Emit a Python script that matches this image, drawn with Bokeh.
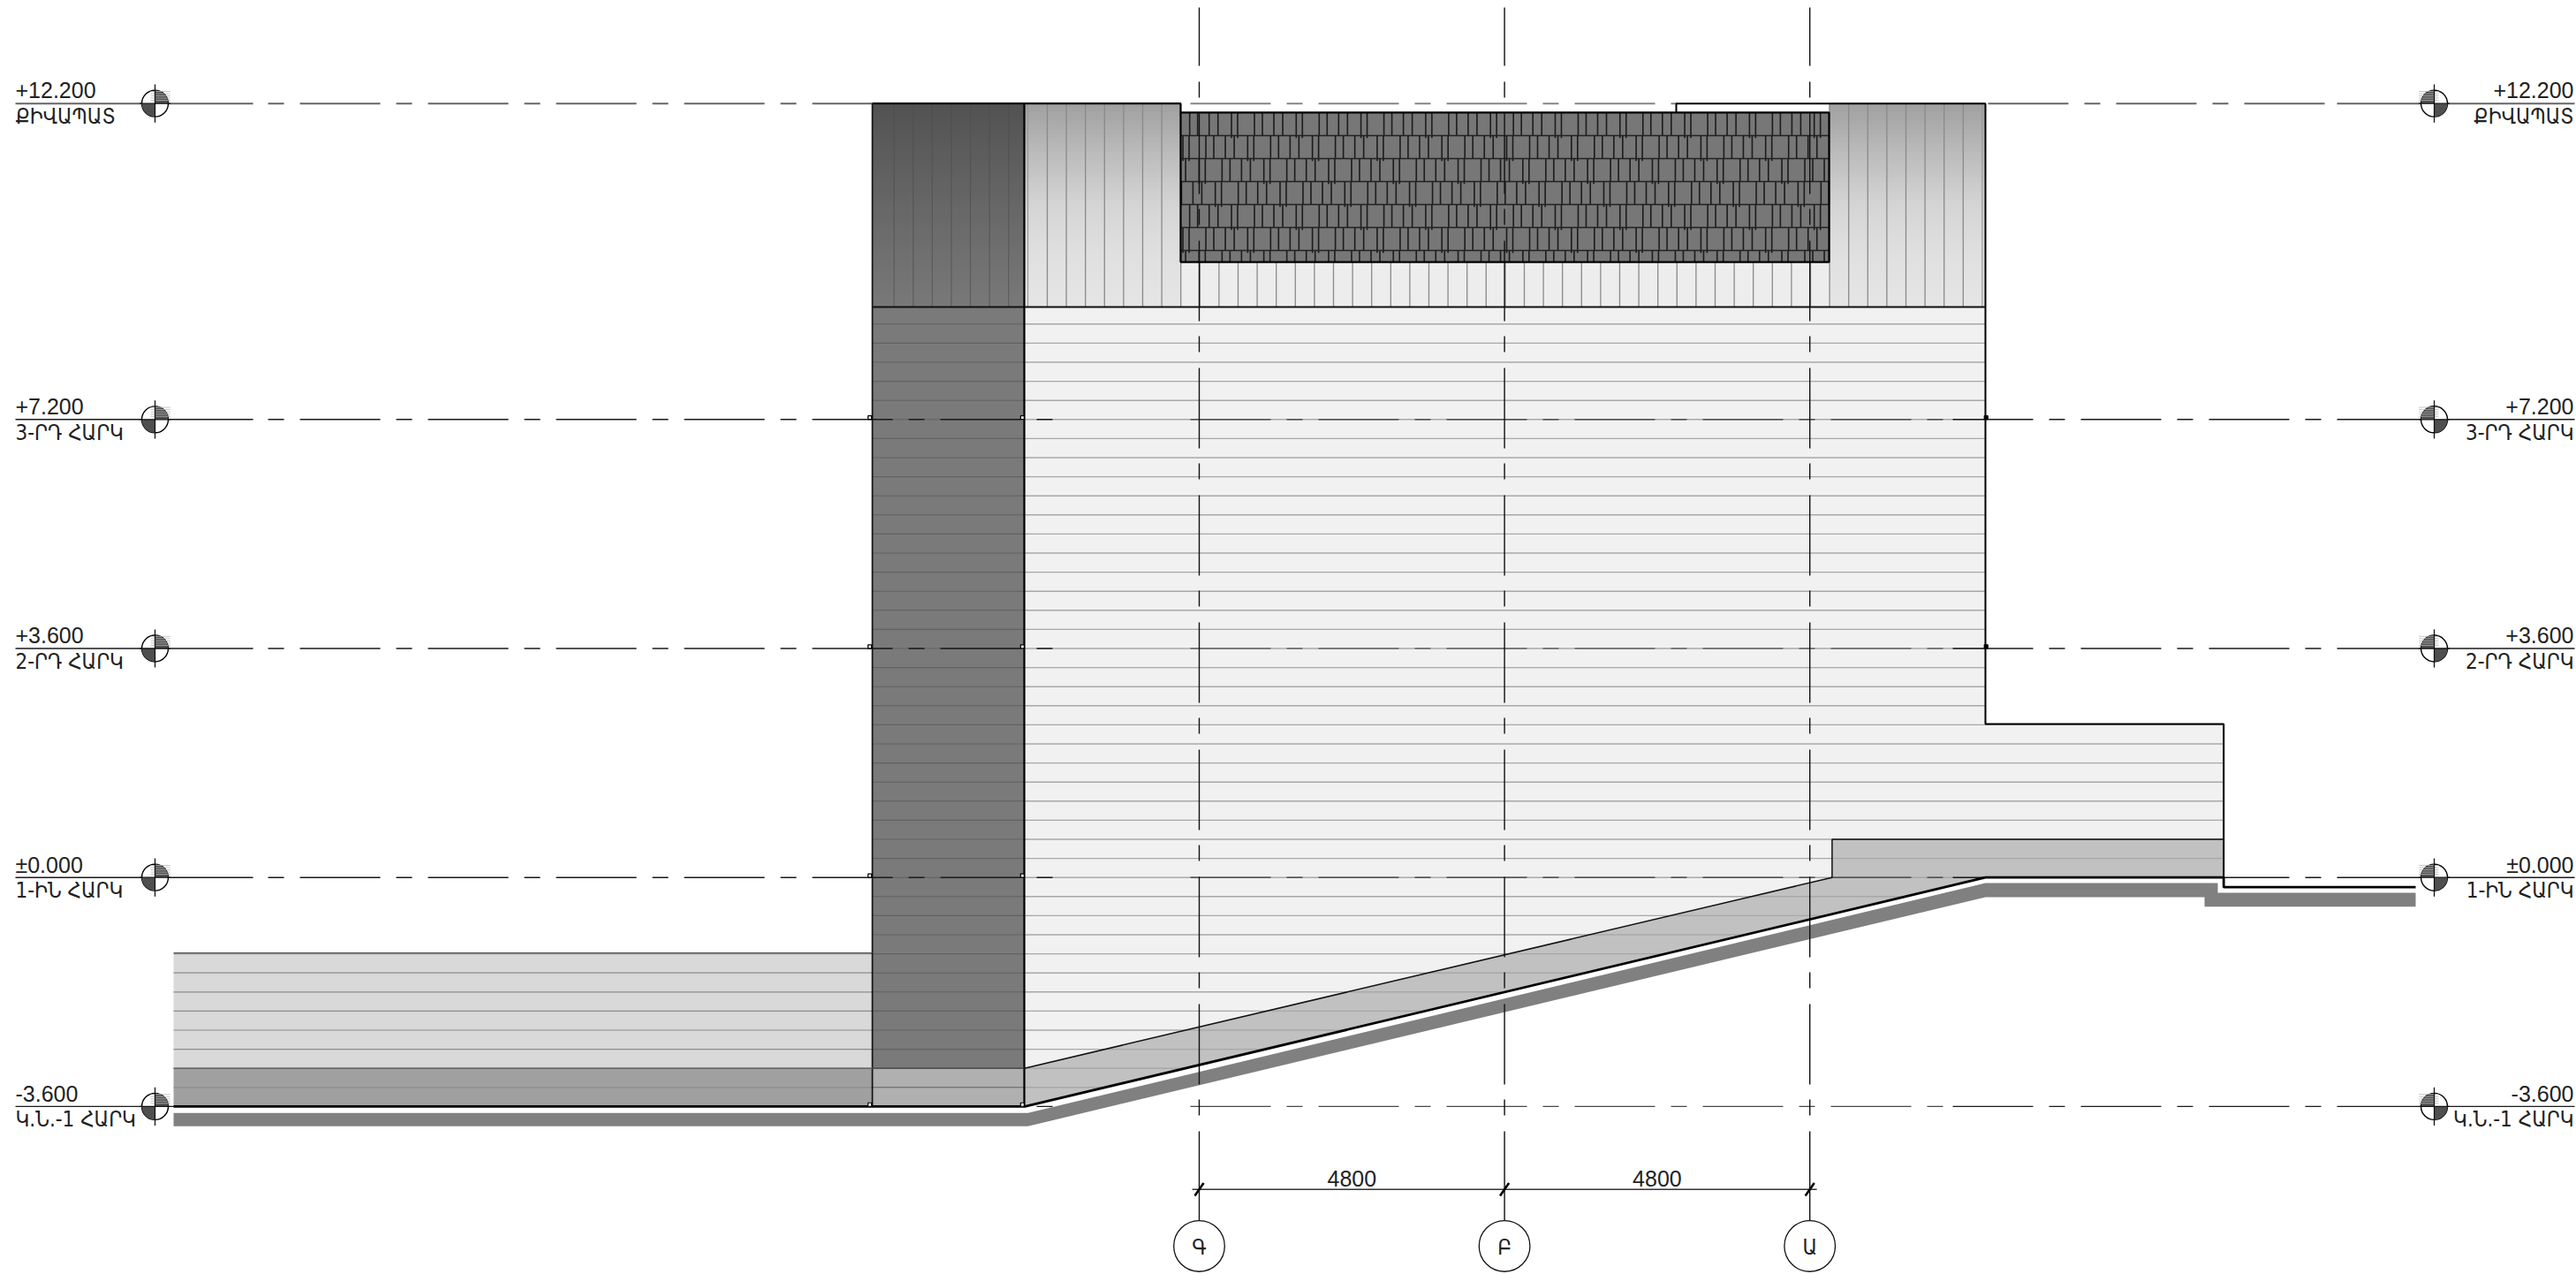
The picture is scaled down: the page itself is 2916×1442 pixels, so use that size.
import numpy as np
from bokeh.plotting import figure
from bokeh.models import Range1d
from bokeh.core.properties import value
from bokeh.embed import file_html
from bokeh.resources import INLINE

# ---- drawing data, in metres (x from grid axis Գ, y = elevation) ----
level_labels = ["+12.200", "+7.200", "+3.600", "±0.000", "-3.600"]
floor_labels = ["ՔԻՎԱՊԱՏ", "3-ՐԴ ՀԱՐԿ", "2-ՐԴ ՀԱՐԿ", "1-ԻՆ ՀԱՐԿ", "Կ.Ն.-1 ՀԱՐԿ"]
level_y = [12.167, 7.2, 3.6, 0.0, -3.6]
grid_x = [0.0, 4.8, 9.6]
grid_names = ["Գ", "Բ", "Ա"]
dim_labels = ["4800", "4800"]
dim_y = -4.903
bubble_y = -5.795

wall_l, wall_r = -5.139, -2.75
panel_r = 12.361
ext_r = 16.107
ledge_x = 9.95
roof_y, parapet_y = 12.167, 8.968
step_y, ledge_y = 2.413, 0.6
shingle_l, shingle_r, shingle_t, shingle_b = -0.292, 9.903, 12.025, 9.676
notch_x = 7.5
left_l, left_t = -16.125, -1.185
slope_b = -3.0
slope_foot = -3.6
ground_x = [-16.125, -2.694, 12.361, 16.014, 16.014, 19.125, 19.125, 15.806, 15.806, 12.361, -2.694, -16.125]
ground_y = [-3.703, -3.703, -0.0875, -0.0875, -0.24, -0.24, -0.458, -0.458, -0.31, -0.31, -3.911, -3.911]

dark_stops = ["#525252", "#5d5d5d", "#676767", "#707070", "#797979"]
light_stops = ["#a0a0a0", "#bcbcbc", "#d5d5d5", "#e0e0e0", "#e6e6e6"]
stop_pos = [0, 0.25, 0.5, 0.75, 1]

# shingle pattern: tab start offsets in one course, course period, course shift
shingle_offsets = [0, 0.097, 0.361, 0.486, 0.667, 0.806]
shingle_period = 1.018
shingle_shift = 0.2546
shingle_start = 6.615
course_lines = [12.025, 11.663, 11.302, 10.941, 10.580, 10.219, 9.858, 9.676]

W, H = 2916, 1442
PX = 72.0
p = figure(width=W, height=H, output_backend="svg", toolbar_location=None,
           x_range=Range1d((0 - 1357) / PX, (W - 1357) / PX),
           y_range=Range1d((992.7 - H) / PX, 992.7 / PX),
           min_border=0, outline_line_color=None, background_fill_color="white",
           border_fill_color="white")
p.axis.visible = False
p.grid.visible = False


def hexv(c):
    return int(c[1:3], 16)


def gradient(x0, x1, y0, y1, stops, n=46):
    ed = np.linspace(y0, y1, n + 1)
    t = (np.arange(n) + 0.5) / n
    v = np.interp(t, stop_pos, [hexv(c) for c in stops])
    cols = ["#%02x%02x%02x" % (int(a), int(a), int(a)) for a in v]
    p.quad(left=x0, right=x1, top=ed[:-1] + 0.01, bottom=ed[1:] - 0.01, fill_color=cols, line_color=None)


# ---- fills ----
p.patch([left_l, wall_l, wall_l, left_l], [left_t, left_t, slope_b, slope_b], fill_color="#d9d9d9", line_color=None)
p.patch([left_l, wall_l, wall_l, left_l], [slope_b, slope_b, slope_foot, slope_foot], fill_color="#a0a0a0", line_color=None)
p.patch([wall_r, panel_r, panel_r, ext_r, ext_r, panel_r, ledge_x, wall_r],
        [parapet_y, parapet_y, step_y, step_y, 0, 0, 0, slope_b], fill_color="#f1f1f1", line_color=None)
p.patch([wall_r, ledge_x, panel_r, ext_r, ext_r, ledge_x, ledge_x, panel_r, -2.74, wall_r],
        [slope_b, 0, 0, 0, ledge_y, ledge_y, 0, 0, slope_foot, slope_foot], fill_color="#c1c1c1", line_color=None)
gradient(wall_l, wall_r, roof_y, parapet_y, dark_stops)
p.quad(left=wall_l, right=wall_r, top=parapet_y, bottom=slope_b, fill_color="#7a7a7a", line_color=None)
p.quad(left=wall_l, right=wall_r, top=slope_b, bottom=slope_foot, fill_color="#b0b0b0", line_color=None)
gradient(wall_r, shingle_l, roof_y, parapet_y, light_stops)
gradient(shingle_r, panel_r, roof_y, parapet_y, light_stops)
p.quad(left=shingle_l, right=shingle_r, top=shingle_b, bottom=parapet_y, fill_color="#ededed", line_color=None)
p.quad(left=shingle_l, right=shingle_r, top=shingle_t, bottom=shingle_b, fill_color="#777777", line_color=None)
p.patch(ground_x, ground_y, fill_color="#808080", line_color=None)

# ---- horizontal coursing, every 0.3 m ----
courses = 8.7 - 0.3 * np.arange(41)
slope_at = lambda y: -2.74 + (y + 3.6) / 3.6 * (panel_r + 2.74)
mx0, mx1, my = [], [], []
for y in courses:
    right = panel_r if y > step_y else ext_r
    mx0.append(wall_r); mx1.append(right); my.append(y)
    if y < 0:
        mx1[-1] = slope_at(y)
p.segment(mx0, my, mx1, my, line_color="#a8a8a8", line_width=1.4)
p.segment([wall_l] * 41, courses, [wall_r] * 41, courses, line_color="#626262", line_width=1.1)
low = courses[(courses < left_t)]
p.segment([left_l] * len(low), low, [wall_l] * len(low), low, line_color="#8c8c8c", line_width=1.2)

# ---- vertical boards, every 0.3 m ----
boards = -2.389 + 0.3 * np.arange(49)
bt = [shingle_b if shingle_l < b < shingle_r else roof_y for b in boards]
p.segment(boards, bt, boards, [parapet_y] * 49, line_color="#8a8a8a", line_width=1.3)
p.segment([-2.694, 12.31], [roof_y] * 2, [-2.694, 12.31], [parapet_y] * 2, line_color="#9a9a9a", line_width=1.2)
wb = -4.797 + 0.3 * np.arange(7)
p.segment(wb, [roof_y] * 7, wb, [parapet_y] * 7, line_color="#4c4c4c", line_alpha=0.6, line_width=1.2)

# ---- shingles ----
vx, vt, vb = [], [], []
for c in range(7):
    top, bot = course_lines[c], course_lines[c + 1]
    phase = shingle_start + (c % 4) * shingle_shift
    k0 = int((shingle_l - phase) / shingle_period) - 2
    for k in range(k0, k0 + 16):
        for i, o in enumerate(shingle_offsets):
            x = phase + k * shingle_period + o
            if shingle_l < x < shingle_r:
                vx.append(x); vt.append(top)
                vb.append(bot - (0.04 if i < 2 and c < 6 else 0))
p.segment(vx, vt, vx, vb, line_color="#1c1c1c", line_width=1.6)
cl = course_lines[1:-1]
p.segment([shingle_l] * len(cl), cl, [shingle_r] * len(cl), cl, line_color="#222222", line_width=1.5)

# ---- level lines ----
def to_m(px):
    return (px - 1357) / PX

for i, y in enumerate(level_y):
    col = "#666666" if i == 0 else "#1a1a1a"
    wid = 2 if i == 0 else 1.4
    p.line([to_m(17), to_m(286)], [y, y], line_color=col, line_width=wid)
    p.line([to_m(303), to_m(987 if i == 0 else 1191)], [y, y], line_color=col, line_width=wid, line_dash="18 18 91 18")
    p.line([to_m(1347), to_m(1897 if i == 0 else 2210)], [y, y], line_color=col, line_alpha=0.8, line_width=1.2 if i else 2, line_dash="91 18 18 18")
    p.line([to_m(2250 if i == 0 else 2210), to_m(2645)], [y, y], line_color=col, line_width=wid, line_dash="91 18 18 18")
    p.line([to_m(2645), to_m(2914)], [y, y], line_color=col, line_width=wid)

# ---- grid axes ----
for x in grid_x:
    p.line([x, x], [(992.7 - 8) / PX, (992.7 - 74) / PX], line_color="#111111", line_width=1.4)
    p.line([x, x], [(992.7 - 92) / PX, (992.7 - 1262) / PX], line_color="#111111", line_width=1.4, line_dash="18 18 91 17")
    p.line([x, x], [(992.7 - 1280) / PX, bubble_y + 0.4], line_color="#111111", line_width=1.4)

# ---- outlines ----
p.line([wall_l, shingle_l, shingle_l, shingle_r, shingle_r, shingle_l], [roof_y, roof_y, shingle_b, shingle_b, shingle_t, shingle_t], line_color="#000000", line_width=2.2)
p.line([notch_x, notch_x, panel_r, panel_r, ext_r, ext_r], [shingle_t, roof_y, roof_y, step_y, step_y, 0], line_color="#000000", line_width=2.0)
p.line([wall_l, panel_r], [parapet_y, parapet_y], line_color="#111111", line_width=1.8)
p.line([wall_l, wall_l], [roof_y, slope_foot], line_color="#111111", line_width=1.7)
p.line([wall_r, wall_r], [roof_y, slope_foot], line_color="#000000", line_width=2.2)
p.line([wall_l, wall_r], [slope_b, slope_b], line_color="#444444", line_width=1.2)
p.line([left_l, wall_l], [slope_b, slope_b], line_color="#666666", line_width=1.4)
p.line([left_l, wall_l], [left_t, left_t], line_color="#555555", line_width=1.2)
p.line([wall_r, ledge_x, ledge_x, ext_r], [slope_b, 0, ledge_y, ledge_y], line_color="#111111", line_width=1.5)
p.line([left_l, -2.74, panel_r, ext_r, ext_r, 19.125],
       [slope_foot, slope_foot, 0, 0, -0.153, -0.153], line_color="#000000", line_width=2.8)

for y in level_y[1:]:
    p.scatter([wall_l - 0.04, wall_r - 0.03], [y + 0.03] * 2, marker="square", size=4, fill_color="#ffffff", line_color="#000000", line_width=1.2)
for y in level_y[1:3]:
    p.scatter([panel_r + 0.01], [y + 0.03], marker="square", size=4, fill_color="#000000", line_color="#000000", line_width=1.2)

# ---- level markers ----
mark_l, mark_r = -16.417, 19.417
R = 0.208
for y in level_y:
    for mx, starts in ((mark_l, (0, np.pi)), (mark_r, (np.pi / 2, 3 * np.pi / 2))):
        p.circle([mx], [y], radius=R, fill_color="#ffffff", line_color="#000000", line_width=1.4)
        for s in starts:
            p.wedge([mx], [y], radius=R, start_angle=s, end_angle=s + np.pi / 2, fill_color="#4f4f4f", line_color=None)
        hy = y + 0.05 + 0.035 * np.arange(5)
        sgn = 1 if mx == mark_l else -1
        p.segment([mx - sgn * 0.07] * 5, hy, [mx + sgn * 0.24] * 5, hy, line_color="#b5b5b5", line_width=0.8)
        p.segment([mx], [y + 0.3], [mx], [y - 0.3], line_color="#111111", line_width=1.3)
        p.segment([mx - 0.24], [y], [mx + 0.24], [y], line_color="#111111", line_width=1.3)

# ---- level texts ----
font = value("Liberation Sans")
arm = value("DejaVu Sans Condensed")
n = len(level_y)
up = np.array(level_y) + 14.7 / PX
dn = np.array(level_y) - 15 / PX
p.text([to_m(17)] * n, up, text=level_labels, text_font=font, text_font_size="25px", text_color="#222222", text_align="left", text_baseline="alphabetic")
p.text([to_m(17)] * n, dn, text=floor_labels, text_font=arm, text_font_size="24px", text_color="#222222", text_align="left", text_baseline="alphabetic")
p.text([to_m(2913)] * n, up, text=level_labels, text_font=font, text_font_size="25px", text_color="#222222", text_align="right", text_baseline="alphabetic")
p.text([to_m(2913)] * n, dn, text=floor_labels, text_font=arm, text_font_size="24px", text_color="#222222", text_align="right", text_baseline="alphabetic")

# ---- dimension chain and bubbles ----
p.line([grid_x[0] - 0.11, grid_x[-1] + 0.11], [dim_y, dim_y], line_color="#333333", line_width=1.5)
for x in grid_x:
    p.line([x - 0.07, x + 0.07], [dim_y - 0.1, dim_y + 0.1], line_color="#000000", line_width=2.6)
mids = [(grid_x[0] + grid_x[1]) / 2, (grid_x[1] + grid_x[2]) / 2]
p.text(mids, [dim_y + 0.17] * 2, text=dim_labels, text_font=font, text_font_size="25px", text_color="#222222", text_align="center", text_baseline="alphabetic")
p.circle(grid_x, [bubble_y] * 3, radius=0.4, fill_color="#ffffff", line_color="#111111", line_width=1.3)
p.text(grid_x, [bubble_y - 0.02] * 3, text=grid_names, text_font=arm, text_font_size="24px", text_color="#222222", text_align="center", text_baseline="middle")

open("out.html", "w").write(file_html(p, INLINE))
